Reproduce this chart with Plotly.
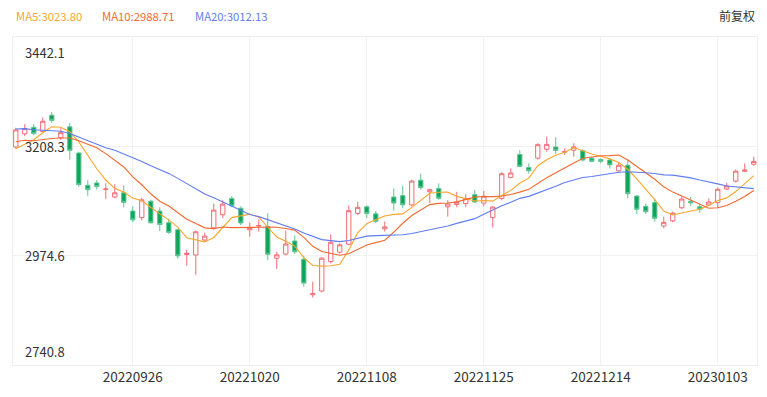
import plotly.graph_objects as go

# ---------------- data ----------------
dates = [
    "20220906", "20220907", "20220908", "20220909", "20220913", "20220914", "20220915", "20220916",
    "20220919", "20220920", "20220921", "20220922", "20220923", "20220926", "20220927", "20220928",
    "20220929", "20220930",
    "20221010", "20221011", "20221012", "20221013", "20221014", "20221017", "20221018", "20221019",
    "20221020", "20221021", "20221024", "20221025", "20221026", "20221027", "20221028", "20221031",
    "20221101", "20221102", "20221103", "20221104", "20221107", "20221108", "20221109", "20221110",
    "20221111", "20221114", "20221115", "20221116", "20221117", "20221118", "20221121", "20221122",
    "20221123", "20221124", "20221125", "20221128", "20221129", "20221130",
    "20221201", "20221202", "20221205", "20221206", "20221207", "20221208", "20221209", "20221212",
    "20221213", "20221214", "20221215", "20221216", "20221219", "20221220", "20221221", "20221222",
    "20221223", "20221226", "20221227", "20221228", "20221229", "20221230",
    "20230103", "20230104", "20230105", "20230106", "20230109",
]

opens = [
    3207, 3235, 3249, 3240, 3275, 3227, 3250, 3194, 3125, 3130, 3116, 3100, 3109, 3070, 3056, 3091,
    3070, 3045,
    3030, 2977, 2976, 3008, 3034, 3062, 3097, 3076, 3030, 3038, 3037, 2969, 2978, 3006, 2967, 2891,
    2899, 2962, 2982, 2999, 3065, 3079, 3064, 3032, 3100, 3103, 3083, 3136, 3111, 3118, 3079, 3084,
    3086, 3105, 3087, 3056, 3097, 3142,
    3191, 3163, 3183, 3202, 3207, 3196, 3200, 3199, 3183, 3180, 3179, 3156, 3168, 3102, 3080, 3088,
    3038, 3049, 3077, 3091, 3079, 3083,
    3088, 3117, 3134, 3155, 3170,
]
highs = [
    3248, 3256, 3256, 3270, 3282, 3247, 3258, 3197, 3136, 3136, 3129, 3127, 3125, 3080, 3098, 3094,
    3078, 3054,
    3032, 2987, 3028, 3024, 3086, 3093, 3102, 3080, 3045, 3052, 3065, 2983, 3028, 3018, 2974, 2919,
    2971, 3020, 3001, 3082, 3090, 3082, 3070, 3048, 3118, 3124, 3137, 3150, 3118, 3129, 3093, 3111,
    3106, 3115, 3113, 3080, 3153, 3161,
    3200, 3172, 3215, 3229, 3228, 3204, 3215, 3202, 3186, 3183, 3183, 3174, 3179, 3104, 3086, 3097,
    3058, 3069, 3100, 3100, 3086, 3097,
    3120, 3130, 3159, 3172, 3186,
]
lows = [
    3203, 3230, 3232, 3238, 3258, 3222, 3180, 3122, 3102, 3116, 3096, 3097, 3078, 3046, 3050, 3043,
    3027, 3021,
    2968, 2953, 2934, 3004, 3030, 3055, 3078, 3040, 3015, 3026, 2965, 2946, 2975, 2978, 2908, 2885,
    2896, 2958, 2979, 2997, 3061, 3055, 3044, 3026, 3071, 3076, 3080, 3116, 3087, 3094, 3058, 3078,
    3078, 3087, 3080, 3035, 3093, 3140,
    3164, 3150, 3180, 3197, 3192, 3190, 3186, 3176, 3174, 3172, 3161, 3154, 3097, 3064, 3064, 3047,
    3033, 3046, 3074, 3081, 3066, 3082,
    3076, 3115, 3131, 3154, 3167,
]
closes = [
    3243.45, 3246.29, 3235.59, 3262.05, 3263.80, 3237.54, 3199.92, 3126.40, 3115.60, 3122.41,
    3117.18, 3108.91, 3088.37, 3051.23, 3093.86, 3045.07, 3041.20, 3024.39,
    2974.15, 2979.79, 3025.51, 3016.36, 3071.99, 3084.94, 3080.96, 3044.38, 3035.05, 3038.93,
    2977.56, 2976.28, 2999.50, 2982.90, 2915.93, 2893.48,
    2969.20, 3003.37, 2997.81, 3070.80, 3077.82, 3064.49, 3048.17, 3036.13, 3087.29, 3083.40,
    3134.08, 3119.98, 3115.43, 3097.24, 3085.04, 3088.94, 3096.91, 3089.31, 3101.69, 3078.55,
    3149.75, 3151.34,
    3165.47, 3156.14, 3211.81, 3212.53, 3199.62, 3197.35, 3206.95, 3179.04, 3176.33, 3176.53,
    3168.65, 3167.86, 3107.12, 3073.77, 3068.41, 3054.43, 3045.87, 3065.56, 3095.57, 3087.40,
    3073.70, 3089.26,
    3116.51, 3123.52, 3155.22, 3157.64, 3176.08,
]
# closes of the 19 sessions before the window (only used to warm up the moving averages)
prior_closes = [
    3230.02, 3281.67, 3276.89, 3276.09, 3277.54, 3292.53, 3277.88, 3258.08, 3277.79, 3276.22,
    3215.20, 3246.25, 3236.22, 3240.73, 3227.22, 3202.14, 3184.98, 3186.48, 3199.91,
]

ma_periods = [5, 10, 20]
ma_labels = ["MA5:3023.80", "MA10:2988.71", "MA20:3012.13"]
ma_colors = ["#F9A62B", "#F3692F", "#5F7DF2"]

x_tick_labels = ["20220926", "20221020", "20221108", "20221125", "20221214", "20230103"]
y_tick_values = [2740.8, 2974.6, 3208.3, 3442.1]
y_tick_labels = ["2740.8", "2974.6", "3208.3", "3442.1"]
adjust_label = "前复权"

# ---------------- figure ----------------
# the page body has an 8px default margin, so the figure starts at (8, 8)
OFF = 8
W, H = 767 - OFF, 397 - OFF
ML, MR, MT, MB = 13 - OFF, 10, 37 - OFF, 32
pw = W - ML - MR
ph = H - MT - MB

all_c = prior_closes + closes
n0 = len(prior_closes)


def moving_average(n):
    return [sum(all_c[k - n + 1:k + 1]) / n for k in range(n0, len(all_c))]


fig = go.Figure()

fig.add_trace(go.Candlestick(
    x=dates, open=opens, high=highs, low=lows, close=closes,
    increasing=dict(line=dict(color="#F26B74", width=1), fillcolor="rgba(255,255,255,1)"),
    decreasing=dict(line=dict(color="#5EC593", width=1), fillcolor="#10A35C"),
    whiskerwidth=0,
    hoverinfo="skip",
    showlegend=False,
))

for n, col in zip(ma_periods, ma_colors):
    fig.add_trace(go.Scatter(
        x=dates, y=moving_average(n), mode="lines",
        line=dict(color=col, width=1.1),
        hoverinfo="skip", showlegend=False,
    ))

font_family = "Noto Sans CJK SC, Noto Sans, sans-serif"


def px_x(px):
    return (px - OFF - ML) / pw


def px_y(py):
    return (H - MB - (py - OFF)) / ph


annotations = []
# MA legend texts
leg_x = [14, 100, 193]
for txt, col, px in zip(ma_labels, ma_colors, leg_x):
    annotations.append(dict(
        text=txt, xref="paper", yref="paper",
        x=px_x(px), y=px_y(15.5),
        xanchor="left", yanchor="middle", showarrow=False,
        font=dict(size=11.3, color=col, family=font_family),
    ))
annotations.append(dict(
    text=adjust_label, xref="paper", yref="paper",
    x=px_x(757), y=px_y(15.5),
    xanchor="right", yanchor="middle", showarrow=False,
    font=dict(size=12, color="#333333", family=font_family),
))
# y labels inside the plot
shifts = {0: 14, len(y_tick_values) - 1: -15}
for k, (v, t) in enumerate(zip(y_tick_values, y_tick_labels)):
    annotations.append(dict(
        text=t, xref="paper", yref="y",
        x=px_x(23), y=v, yshift=shifts.get(k, 0),
        xanchor="left", yanchor="middle", showarrow=False,
        font=dict(size=13, color="#333333", family=font_family),
    ))

fig.update_layout(
    width=W, height=H,
    margin=dict(l=ML, r=MR, t=MT, b=MB, pad=0),
    paper_bgcolor="white", plot_bgcolor="white",
    showlegend=False,
    annotations=annotations,
    font=dict(family=font_family),
    hovermode=False,
    boxgap=0.32,
)

fig.update_xaxes(
    type="category",
    range=[-0.31, len(dates) - 0.64],
    tickmode="array", tickvals=x_tick_labels, ticktext=x_tick_labels,
    tickfont=dict(size=13.5, color="#333333"),
    showgrid=True, gridcolor="#F1F1F1", gridwidth=1,
    showline=True, linecolor="#EEEEEE", linewidth=1, mirror=True,
    ticks="", ticklen=0,
    rangeslider=dict(visible=False),
    fixedrange=True,
    zeroline=False,
)
fig.update_yaxes(
    range=[y_tick_values[0], y_tick_values[-1]],
    tickmode="array", tickvals=y_tick_values,
    showticklabels=False,
    showgrid=True, gridcolor="#F1F1F1", gridwidth=1,
    showline=True, linecolor="#EEEEEE", linewidth=1, mirror=True,
    zeroline=False,
    fixedrange=True,
)

fig.write_html("out.html", config={"displayModeBar": False})
